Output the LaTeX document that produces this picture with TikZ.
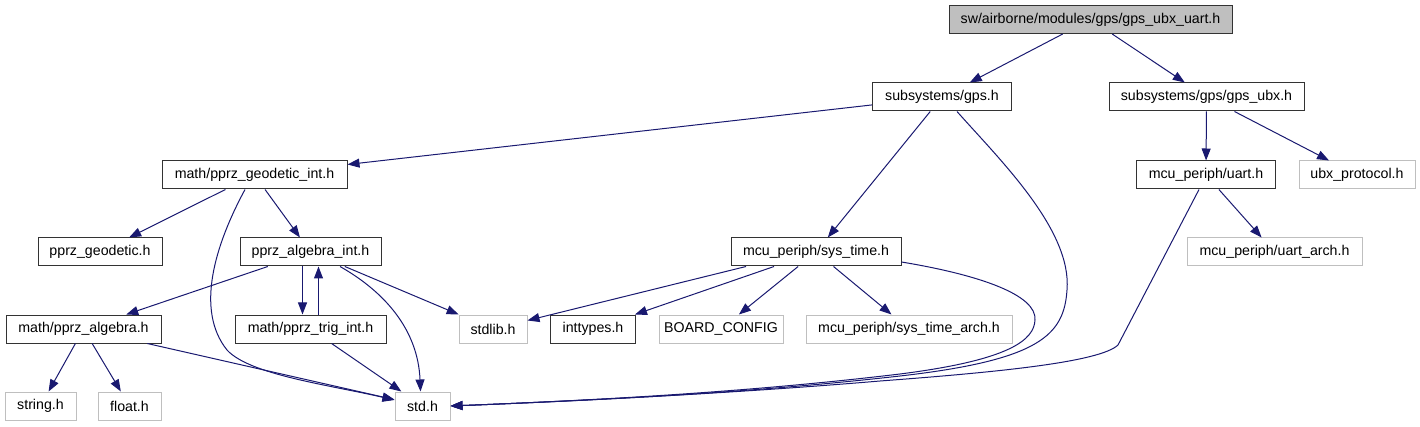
\documentclass[tikz,border=0pt]{standalone}
\usepackage{fontspec}
\setmainfont{Liberation Sans}
\usetikzlibrary{arrows.meta}
\definecolor{edgeblue}{HTML}{191970}
\definecolor{boxgray}{HTML}{BFBFBF}

\begin{document}
\begin{tikzpicture}[x=1pt,y=-1pt,
  hdr/.style={draw=black!80,line width=1pt,minimum height=28pt,inner sep=0pt,font=\fontsize{14.2}{16}\selectfont},
  syshdr/.style={hdr,draw=boxgray},
  incl/.style={draw=edgeblue,line width=1pt,-{Triangle[length=12pt,width=9pt]}}]
  \useasboundingbox (0,0) rectangle (1420,427);

  \node[hdr,fill=boxgray,minimum width=283] (top) at (1090.5,19.5) {sw/airborne/modules/gps/gps\_ubx\_uart.h};
  \node[hdr,minimum width=139] (gps) at (942,97) {subsystems/gps.h};
  \node[hdr,minimum width=195] (gpsubx) at (1206.5,97) {subsystems/gps/gps\_ubx.h};
  \node[hdr,minimum width=139] (uart) at (1206,175) {mcu\_periph/uart.h};
  \node[syshdr,minimum width=116] (ubxproto) at (1357,175) {ubx\_protocol.h};
  \node[syshdr,minimum width=175] (uartarch) at (1274.5,252) {mcu\_periph/uart\_arch.h};
  \node[hdr,minimum width=185] (geoint) at (254.5,175) {math/pprz\_geodetic\_int.h};
  \node[hdr,minimum width=124] (geodetic) at (100,252) {pprz\_geodetic.h};
  \node[hdr,minimum width=141] (algint) at (310.5,252) {pprz\_algebra\_int.h};
  \node[hdr,minimum width=170] (systime) at (816,252) {mcu\_periph/sys\_time.h};
  \node[hdr,minimum width=155] (alg) at (83.5,329) {math/pprz\_algebra.h};
  \node[hdr,minimum width=151] (trig) at (310.5,329) {math/pprz\_trig\_int.h};
  \node[syshdr,minimum width=68] (stdlib) at (493,329) {stdlib.h};
  \node[hdr,minimum width=85] (inttypes) at (593,329) {inttypes.h};
  \node[syshdr,minimum width=124] (board) at (721,329) {BOARD\_CONFIG};
  \node[syshdr,minimum width=206] (systimearch) at (909,329) {mcu\_periph/sys\_time\_arch.h};
  \node[syshdr,minimum width=71] (string) at (40.5,406) {string.h};
  \node[syshdr,minimum width=63] (float) at (129.5,406) {float.h};
  \node[syshdr,minimum width=55] (std) at (422.5,406) {std.h};

  \draw[incl] (top) -- (gps);
  \draw[incl] (top) -- (gpsubx);
  \draw[incl] (gps) -- (geoint);
  \draw[incl] (gps) -- (systime);
  \draw[incl] ([xshift=15pt]gps.south) .. controls (1000,160) and (1072,230) .. (1067,290)
    .. controls (1064,335) and (1040,360) .. (900,376) .. controls (750,393) and (600,400) .. (std.east);
  \draw[incl] (gpsubx) -- (uart);
  \draw[incl] (gpsubx) -- (ubxproto);
  \draw[incl] (uart) -- (uartarch);
  \draw[incl] ([xshift=-7pt]uart.south) -- (1118,345) .. controls (1100,362) and (1000,372) .. (880,381)
    .. controls (750,392) and (600,400) .. (std.east);
  \draw[incl] (geoint) -- (geodetic);
  \draw[incl] (geoint) -- (algint);
  \draw[incl] ([xshift=-9.5pt]geoint.south) .. controls (215,245) and (195,310) .. (227,350)
    .. controls (250,375) and (330,385) .. ([yshift=6pt]std.west);
  \draw[incl] (algint) -- (alg);
  \draw[incl] ([xshift=-8pt]algint.south) -- ([xshift=-8pt]trig.north);
  \draw[incl] ([xshift=8pt]trig.north) -- ([xshift=8pt]algint.south);
  \draw[incl] (algint) -- (stdlib);
  \draw[incl] ([xshift=29.5pt]algint.south) .. controls (385,292) and (418,330) .. ([xshift=-2pt]std.north);
  \draw[incl] (alg) -- (string);
  \draw[incl] (alg) -- (float);
  \draw[incl] (alg) -- (std);
  \draw[incl] (trig) -- (std);
  \draw[incl] ([xshift=-70pt]systime.south) -- (stdlib);
  \draw[incl] (systime) -- (inttypes);
  \draw[incl] (systime) -- (board);
  \draw[incl] (systime) -- (systimearch);
  \draw[incl] ([yshift=-10pt]systime.east) .. controls (980,275) and (1037,295) .. (1035,320)
    .. controls (1034,340) and (1010,360) .. (900,374) .. controls (750,392) and (600,400) .. (std.east);
\end{tikzpicture}
\end{document}
